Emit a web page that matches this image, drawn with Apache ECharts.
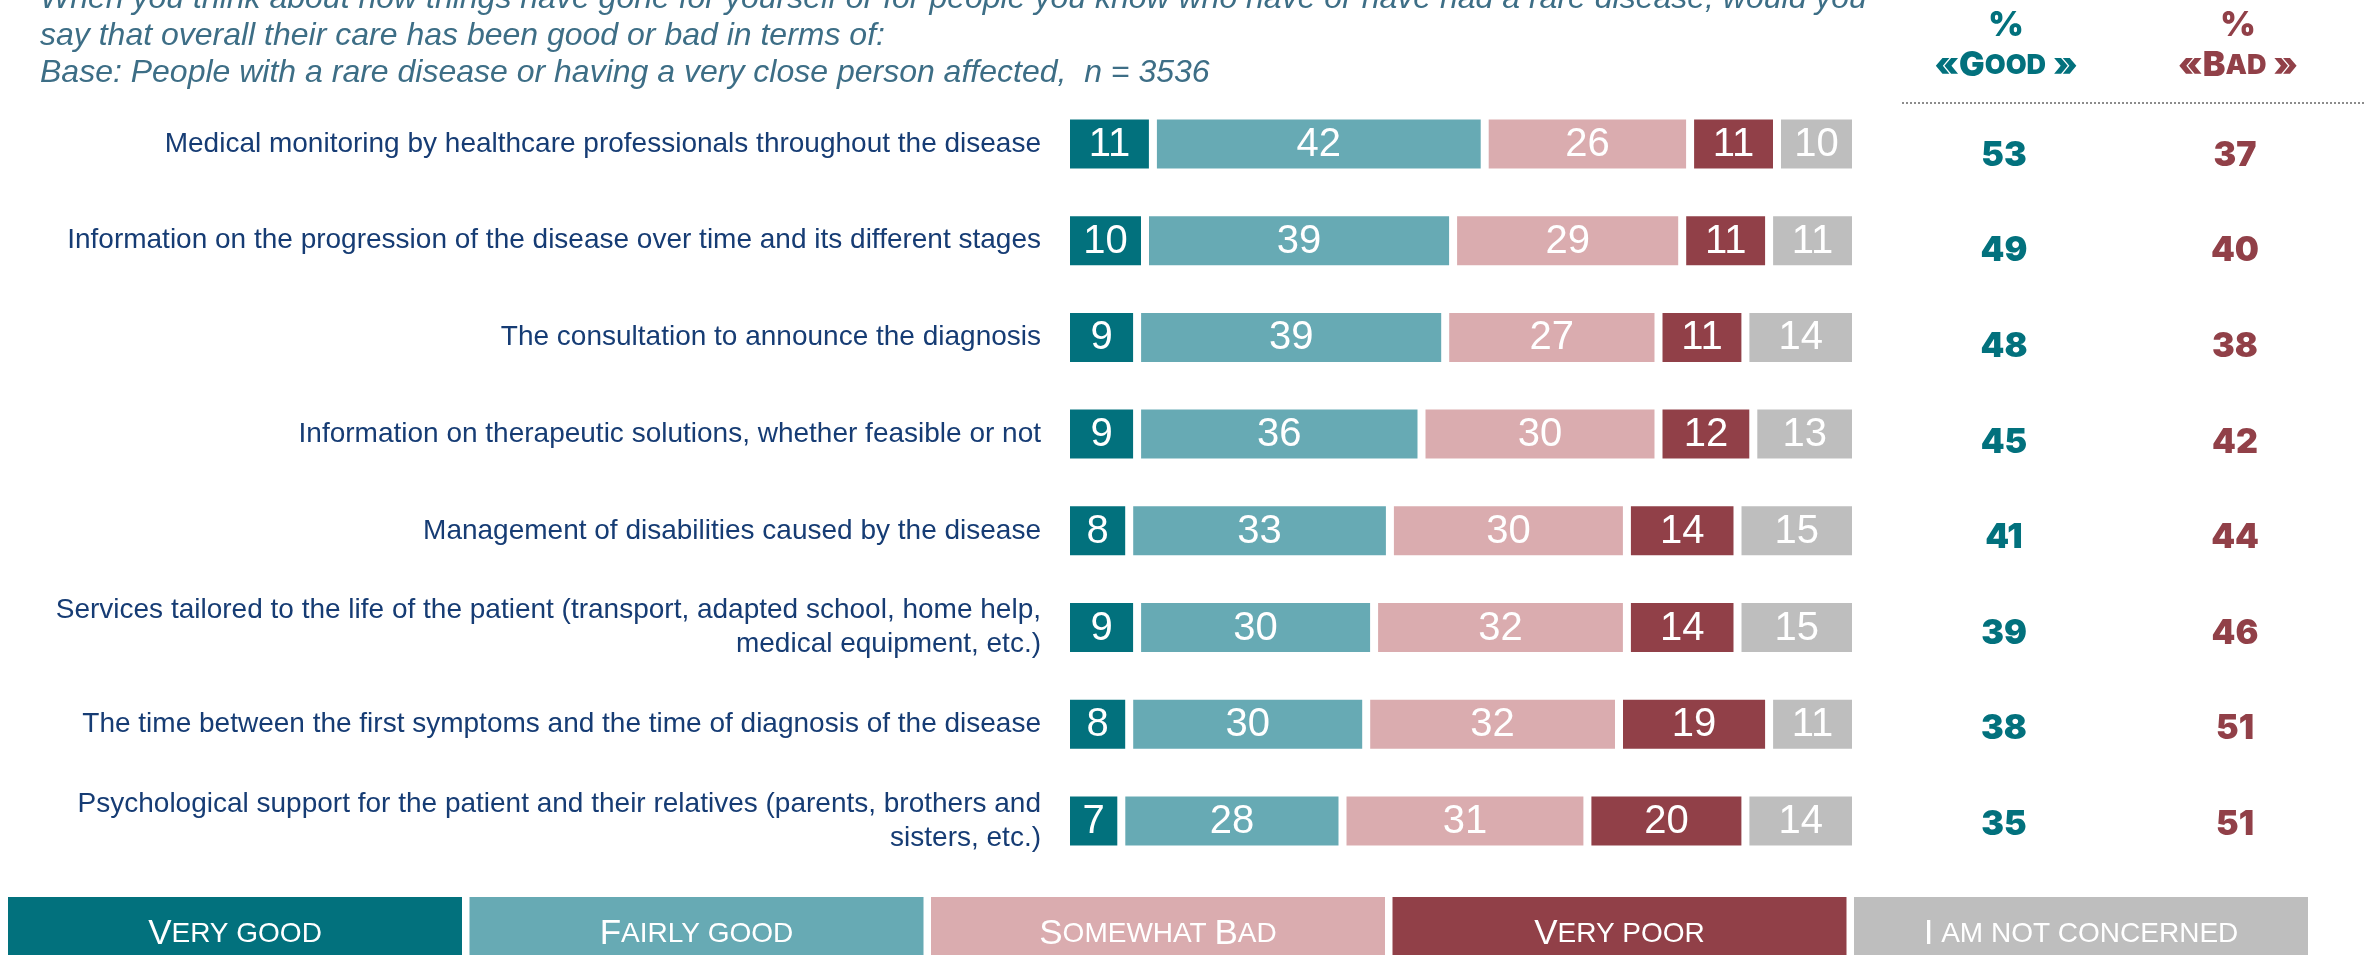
<!DOCTYPE html>
<html>
<head>
<meta charset="utf-8">
<script src="https://cdn.jsdelivr.net/npm/echarts@6/dist/echarts.min.js"></script>
<style>
  html, body { margin: 0; padding: 0; background: #ffffff; }
  #chart { width: 2366px; height: 955px; }
</style>
</head>
<body>
<div id="chart"></div>
<script>
// Survey items (top to bottom)
const categories = [
  'Medical monitoring by healthcare professionals throughout the disease',
  'Information on the progression of the disease over time and its different stages',
  'The consultation to announce the diagnosis',
  'Information on therapeutic solutions, whether feasible or not',
  'Management of disabilities caused by the disease',
  'Services tailored to the life of the patient (transport, adapted school, home help,\nmedical equipment, etc.)',
  'The time between the first symptoms and the time of diagnosis of the disease',
  'Psychological support for the patient and their relatives (parents, brothers and\nsisters, etc.)'
];

// Answer shares, in %
const veryGood     = [11, 10, 9, 9, 8, 9, 8, 7];
const fairlyGood   = [42, 39, 39, 36, 33, 30, 30, 28];
const somewhatBad  = [26, 29, 27, 30, 30, 32, 32, 31];
const veryPoor     = [11, 11, 11, 12, 14, 14, 19, 20];
const notConcerned = [10, 11, 14, 13, 15, 15, 11, 14];

// Summary columns
const goodTotals = [53, 49, 48, 45, 41, 39, 38, 35];
const badTotals  = [37, 40, 38, 42, 44, 46, 51, 51];

const seriesNames = ['Very good', 'Fairly good', 'Somewhat Bad', 'Very poor', 'I am not concerned'];
const seriesData = [veryGood, fairlyGood, somewhatBad, veryPoor, notConcerned];
const colors = ['#02717D', '#67AAB4', '#DAACAF', '#914048', '#BEBEBE'];

// Small-caps style legend captions (first letters full size)
const legendRich = [
  '{b|V}{s|ERY GOOD}',
  '{b|F}{s|AIRLY GOOD}',
  '{b|S}{s|OMEWHAT }{b|B}{s|AD}',
  '{b|V}{s|ERY POOR}',
  '{b|I}{s| AM NOT CONCERNED}'
];

const titleLines = [
  'When you think about how things have gone for yourself or for people you know who have or have had a rare disease, would you',
  'say that overall their care has been good or bad in terms of:',
  'Base: People with a rare disease or having a very close person affected,  n = 3536'
];

const GOOD_C = '#02717D';
const BAD_C = '#914048';
const LABEL_C = '#163C74';
const TITLE_C = '#3D6E86';
const HEAVY = 'Inter, DejaVu Sans, sans-serif';
const ARIAL = 'Liberation Sans, Arial, sans-serif';

const chart = echarts.init(document.getElementById('chart'), null, { renderer: 'canvas' });

const barSeries = seriesNames.map((name, k) => ({
  name: name,
  type: 'bar',
  stack: 'share',
  xAxisIndex: 0,
  yAxisIndex: 0,
  barWidth: 57,
  data: seriesData[k],
  itemStyle: { color: colors[k], borderColor: '#ffffff', borderWidth: 4 },
  label: {
    show: true,
    position: 'inside',
    color: '#ffffff',
    fontFamily: ARIAL,
    fontSize: 40,
    offset: [0, 1],
    formatter: p => p.value
  },
  emphasis: { disabled: true },
  animation: false
}));

const totalSeries = [
  { vals: goodTotals, col: 0, color: GOOD_C, name: 'Good' },
  { vals: badTotals, col: 1, color: BAD_C, name: 'Bad' }
].map(s => ({
  name: s.name,
  type: 'scatter',
  xAxisIndex: 1,
  yAxisIndex: 1,
  symbolSize: 1,
  itemStyle: { color: 'rgba(0,0,0,0)', opacity: 1 },
  data: s.vals.map((v, i) => [s.col, i, v]),
  label: {
    show: true,
    position: 'inside',
    color: s.color,
    fontFamily: HEAVY,
    fontWeight: 900,
    fontSize: 34,
    formatter: p => p.value[2]
  },
  emphasis: { disabled: true },
  animation: false
}));

// Legend boxes along the bottom
const legendGraphics = [];
seriesNames.forEach((n, k) => {
  const x = 8 + k * 461.5;
  legendGraphics.push({
    type: 'rect',
    shape: { x: x, y: 897, width: 454, height: 70 },
    style: { fill: colors[k] },
    silent: true
  });
  legendGraphics.push({
    type: 'text',
    x: x + 227,
    y: 934,
    style: {
      text: legendRich[k],
      align: 'center',
      verticalAlign: 'middle',
      fill: '#ffffff',
      rich: {
        b: { fontSize: 35, fontFamily: ARIAL, fill: '#ffffff' },
        s: { fontSize: 28, fontFamily: ARIAL, fill: '#ffffff' }
      }
    },
    silent: true
  });
});

const titleGraphics = titleLines.map((t, i) => ({
  type: 'text',
  x: 40,
  y: -1 + i * 37,
  style: {
    text: t,
    fontFamily: ARIAL,
    fontStyle: 'italic',
    fontSize: 32,
    fill: TITLE_C,
    align: 'left',
    verticalAlign: 'middle'
  },
  silent: true
}));

function headerGraphics(cx, word, color) {
  const richStyle = {
    b: { fontSize: 34, fontWeight: 900, fontFamily: HEAVY, fill: color },
    s: { fontSize: 27, fontWeight: 900, fontFamily: HEAVY, fill: color }
  };
  return [
    {
      type: 'text', x: cx, y: 26,
      style: { text: '%', fontSize: 34, fontWeight: 900, fontFamily: HEAVY,
               fill: color, align: 'center', verticalAlign: 'middle' },
      silent: true
    },
    {
      type: 'text', x: cx, y: 66,
      style: { text: '{b|«' + word[0] + '}{s|' + word.slice(1) + '}{b| »}', rich: richStyle,
               align: 'center', verticalAlign: 'middle' },
      silent: true
    }
  ];
}

const option = {
  backgroundColor: '#ffffff',
  animation: false,
  grid: [
    { left: 1066, top: 95.6, width: 790, height: 773.7, containLabel: false },
    { left: 1888.5, top: 107.7, width: 462, height: 765, containLabel: false }
  ],
  xAxis: [
    { type: 'value', gridIndex: 0, min: 0, max: 100, show: false },
    { type: 'category', gridIndex: 1, data: ['Good', 'Bad'], show: false }
  ],
  yAxis: [
    {
      type: 'category',
      gridIndex: 0,
      inverse: true,
      data: categories,
      axisLine: { show: false },
      axisTick: { show: false },
      splitLine: { show: false },
      axisLabel: {
        margin: 25,
        color: LABEL_C,
        fontSize: 28,
        lineHeight: 34,
        align: 'right',
        fontFamily: ARIAL
      }
    },
    { type: 'category', gridIndex: 1, inverse: true, data: categories, show: false }
  ],
  series: barSeries.concat(totalSeries),
  graphic: [
    ...titleGraphics,
    ...headerGraphics(2006, 'GOOD', GOOD_C),
    ...headerGraphics(2238, 'BAD', BAD_C),
    {
      type: 'line',
      shape: { x1: 1902, y1: 103, x2: 2366, y2: 103 },
      style: { stroke: '#8c8c8c', lineWidth: 2, lineDash: [2, 2] },
      silent: true
    },
    ...legendGraphics
  ]
};

chart.setOption(option);
</script>
</body>
</html>
